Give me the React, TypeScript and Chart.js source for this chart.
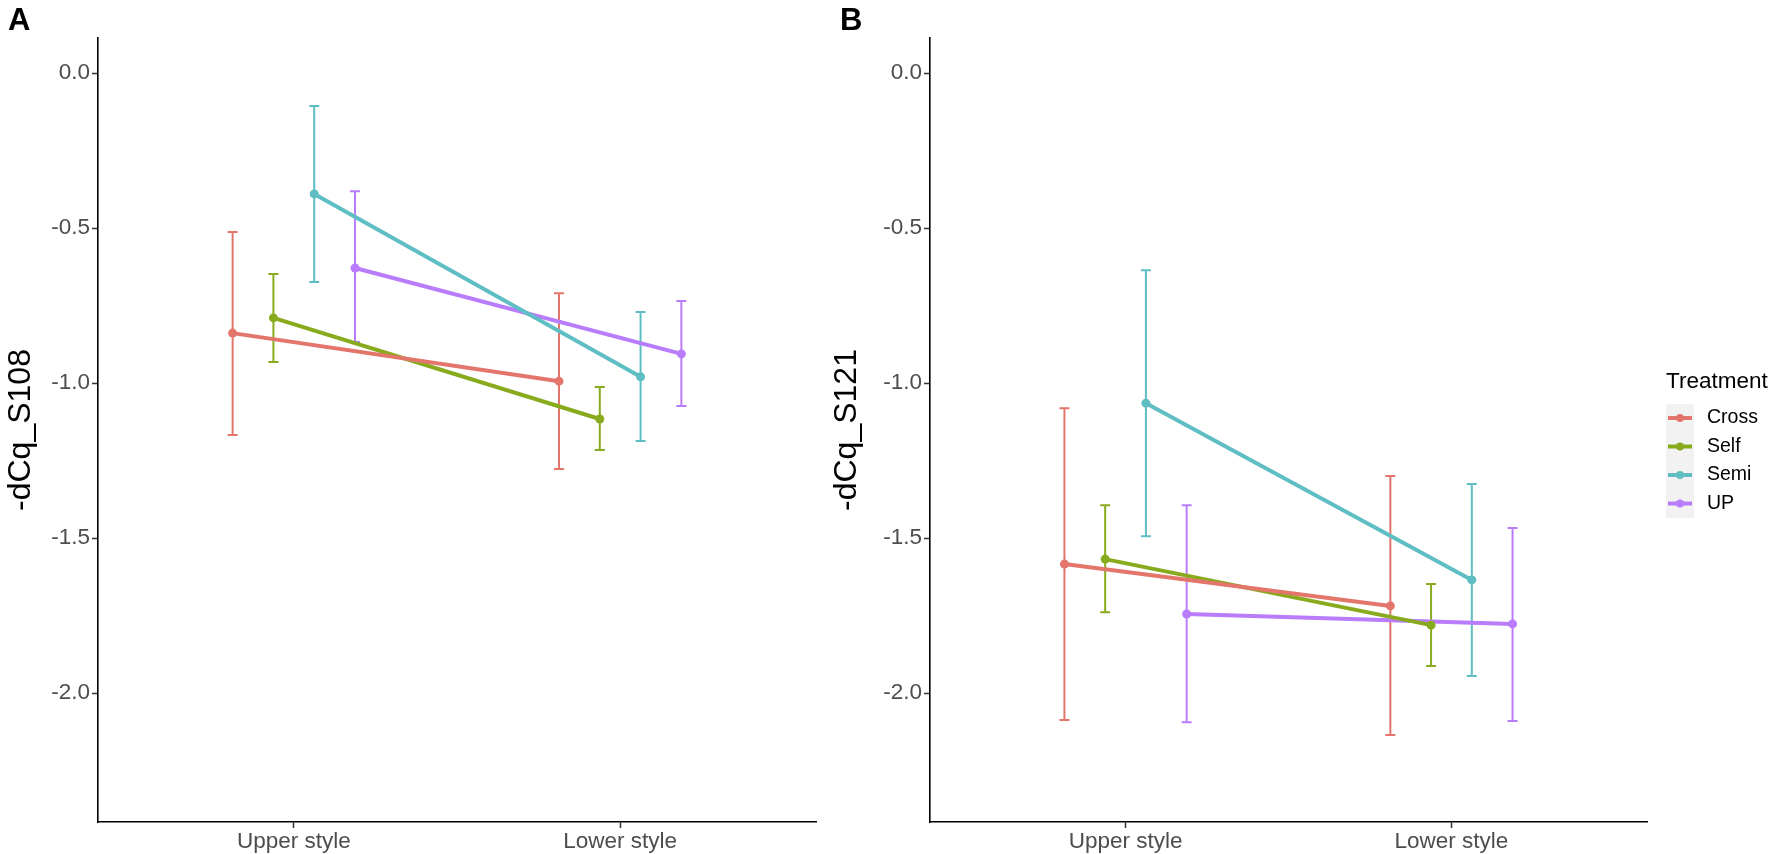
import { useEffect, useRef } from "react";
import { Chart, registerables, Plugin } from "chart.js";

Chart.register(...registerables);

// data
const categories = ["Upper style", "Lower style"];
const treatments = ["Cross", "Self", "Semi", "UP"];
const colors = ["#E3756B", "#88AB1E", "#5FBEC3", "#B97CFB"];
const yTicks = [0, -0.5, -1.0, -1.5, -2.0];

// panel A: -dCq_S108 (mean, lower, upper) per treatment, [upper style, lower style]
const meanA = [
    [-0.839, -0.994],
    [-0.790, -1.116],
    [-0.390, -0.980],
    [-0.629, -0.906],
];
const lowA = [
    [-1.168, -1.277],
    [-0.932, -1.216],
    [-0.674, -1.187],
    [-0.868, -1.074],
];
const highA = [
    [-0.513, -0.710],
    [-0.648, -1.013],
    [-0.106, -0.771],
    [-0.381, -0.735],
];

// panel B: -dCq_S121
const meanB = [
    [-1.584, -1.719],
    [-1.568, -1.781],
    [-1.065, -1.635],
    [-1.745, -1.777],
];
const lowB = [
    [-2.087, -2.135],
    [-1.739, -1.913],
    [-1.494, -1.945],
    [-2.094, -2.090],
];
const highB = [
    [-1.081, -1.300],
    [-1.394, -1.648],
    [-0.636, -1.326],
    [-1.394, -1.468],
];

// position_dodge(0.5) for 4 groups
const dodge = [-0.1875, -0.0625, 0.0625, 0.1875];

const FONT = "'Liberation Sans', Arial, Helvetica, sans-serif";

interface PanelProps {
    means: number[][];
    lows: number[][];
    highs: number[][];
    yTitle: string;
    width: number;
    yWidth: number;
    padRight: number;
    showLegend?: boolean;
}

const Panel: React.FC<PanelProps> = ({ means, lows, highs, yTitle, width, yWidth, padRight, showLegend }) => {
    const chartRef = useRef<HTMLCanvasElement | null>(null);
    const chartInstance = useRef<Chart | null>(null);

    useEffect(() => {
        if (chartInstance.current) {
            chartInstance.current.destroy();
        }
        if (!chartRef.current) return;

        const errorBars: Plugin = {
            id: "errorBars",
            beforeDatasetsDraw(chart) {
                const { ctx } = chart;
                const xs = chart.scales.x;
                const ys = chart.scales.y;
                ctx.save();
                ctx.lineWidth = 2;
                treatments.forEach((_, i) => {
                    ctx.strokeStyle = colors[i];
                    categories.forEach((__, j) => {
                        const px = xs.getPixelForValue(j + 1 + dodge[i]);
                        const lo = ys.getPixelForValue(lows[i][j]);
                        const hi = ys.getPixelForValue(highs[i][j]);
                        ctx.beginPath();
                        ctx.moveTo(px, lo);
                        ctx.lineTo(px, hi);
                        ctx.moveTo(px - 5, lo);
                        ctx.lineTo(px + 5, lo);
                        ctx.moveTo(px - 5, hi);
                        ctx.lineTo(px + 5, hi);
                        ctx.stroke();
                    });
                });
                ctx.restore();
            },
        };

        const legend: Plugin = {
            id: "treatmentLegend",
            afterDraw(chart) {
                if (!showLegend) return;
                const { ctx } = chart;
                const x0 = 840;
                ctx.save();
                ctx.fillStyle = "#000";
                ctx.font = `22.5px ${FONT}`;
                ctx.textBaseline = "middle";
                ctx.textAlign = "left";
                ctx.fillText("Treatment", x0, 382);
                ctx.fillStyle = "#F2F2F2";
                ctx.fillRect(x0, 404, 28, 114);
                treatments.forEach((name, i) => {
                    const cy = 418 + i * 28.5;
                    ctx.strokeStyle = colors[i];
                    ctx.lineWidth = 4;
                    ctx.beginPath();
                    ctx.moveTo(x0 + 2, cy);
                    ctx.lineTo(x0 + 26, cy);
                    ctx.stroke();
                    ctx.fillStyle = colors[i];
                    ctx.beginPath();
                    ctx.arc(x0 + 14, cy, 4, 0, Math.PI * 2);
                    ctx.fill();
                    ctx.fillStyle = "#000";
                    ctx.font = `19.5px ${FONT}`;
                    ctx.fillText(name, x0 + 41, cy);
                });
                ctx.restore();
            },
        };

        chartInstance.current = new Chart(chartRef.current, {
            type: "line",
            data: {
                datasets: treatments.map((name, i) => ({
                    label: name,
                    data: categories.map((_, j) => ({ x: j + 1 + dodge[i], y: means[i][j] })),
                    borderColor: colors[i],
                    backgroundColor: colors[i],
                    borderWidth: 4,
                    pointRadius: 4.5,
                    pointBorderWidth: 0,
                    tension: 0,
                })),
            },
            options: {
                animation: false,
                responsive: true,
                maintainAspectRatio: false,
                layout: { padding: { top: 38, right: padRight, left: 0, bottom: 0 } },
                plugins: {
                    legend: { display: false },
                    tooltip: { enabled: false },
                },
                scales: {
                    x: {
                        type: "linear",
                        min: 0.4,
                        max: 2.6,
                        afterBuildTicks: (scale) => {
                            scale.ticks = categories.map((_, j) => ({ value: j + 1 }));
                        },
                        afterFit: (scale) => {
                            scale.height = 32;
                        },
                        ticks: {
                            callback: (v) => categories[Number(v) - 1] ?? "",
                            color: "#4D4D4D",
                            font: { family: FONT, size: 22.5 },
                            padding: 0,
                            maxRotation: 0,
                        },
                        grid: {
                            drawOnChartArea: false,
                            drawTicks: true,
                            tickLength: 6,
                            tickColor: "#333",
                            tickWidth: 1.5,
                        },
                        border: { display: true, color: "#000", width: 1.6 },
                    },
                    y: {
                        type: "linear",
                        min: -2.416,
                        max: 0.113,
                        afterBuildTicks: (scale) => {
                            scale.ticks = yTicks.map((v) => ({ value: v }));
                        },
                        afterFit: (scale) => {
                            scale.width = yWidth;
                        },
                        ticks: {
                            callback: (v) => Number(v).toFixed(1),
                            color: "#4D4D4D",
                            font: { family: FONT, size: 22.5 },
                            padding: 2,
                        },
                        grid: {
                            drawOnChartArea: false,
                            drawTicks: true,
                            tickLength: 6,
                            tickColor: "#333",
                            tickWidth: 1.5,
                        },
                        border: { display: true, color: "#000", width: 1.6 },
                        title: {
                            display: true,
                            text: yTitle,
                            color: "#000",
                            font: { family: FONT, size: 32 },
                            padding: { top: 2, bottom: 0 },
                        },
                    },
                },
            },
            plugins: [errorBars, legend],
        });

        return () => {
            chartInstance.current?.destroy();
        };
    }, [means, lows, highs, yTitle, yWidth, padRight, showLegend]);

    return (
        <div style={{ position: "relative", width, height: 854 }}>
            <canvas ref={chartRef} />
        </div>
    );
};

const labelStyle: React.CSSProperties = {
    position: "absolute",
    top: 4,
    fontFamily: FONT,
    fontWeight: "bold",
    fontSize: 31,
    lineHeight: 1,
    color: "#000",
};

export default function App() {
    return (
        <div style={{ position: "absolute", left: 0, top: 0, width: 1772, height: 854, background: "#fff" }}>
            <div style={{ position: "absolute", left: 0, top: 0 }}>
                <Panel means={meanA} lows={lowA} highs={highA} yTitle="-dCq_S108" width={826} yWidth={98} padRight={10} />
            </div>
            <div style={{ position: "absolute", left: 826, top: 0 }}>
                <Panel means={meanB} lows={lowB} highs={highB} yTitle="-dCq_S121" width={946} yWidth={104} padRight={125} showLegend />
            </div>
            <div style={{ ...labelStyle, left: 8 }}>A</div>
            <div style={{ ...labelStyle, left: 840 }}>B</div>
        </div>
    );
}
